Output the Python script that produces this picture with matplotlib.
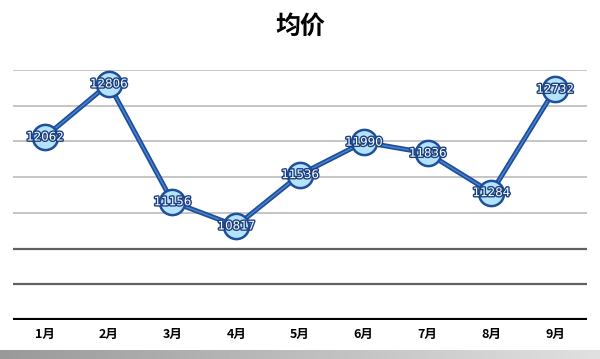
"""Monthly average price line chart."""
import matplotlib
matplotlib.use("Agg")
import matplotlib.pyplot as plt
import matplotlib.patheffects as pe
import numpy as np

plt.rcParams["font.family"] = ["Noto Sans CJK SC", "DejaVu Sans"]

months = ["1月", "2月", "3月", "4月", "5月", "6月", "7月", "8月", "9月"]
avg_price = [12062, 12806, 11156, 10817, 11536, 11990, 11836, 11284, 12732]
y_ticks = [9500, 10000, 10500, 11000, 11500, 12000, 12500, 13000]

LINE = "#1d4f9c"
FILL = "#b5e3fb"

fig = plt.figure(figsize=(6, 3.59), dpi=100)
fig.patch.set_facecolor("white")

# grey strip along the bottom edge
strip = fig.add_axes([0, 0, 1, 9 / 359])
strip.imshow(np.linspace(0.6, 0.88, 256).reshape(1, -1), cmap="gray",
             aspect="auto", vmin=0, vmax=1)
strip.axis("off")

ax = fig.add_axes([13 / 600, 39 / 359, 574 / 600, 250 / 359])
ax.set_facecolor("none")

x = np.arange(len(months))

for value in y_ticks[1:]:
    dark = value <= 10500
    ax.axhline(value, color="#606060" if dark else "#c0c0c0",
               lw=1.6 if dark else 1.3, zorder=1)
ax.axhline(y_ticks[0], color="black", lw=3, zorder=2)

ax.plot(x, avg_price, color=LINE, lw=3.6, zorder=3, solid_capstyle="round")
ax.plot(x, avg_price, color="#4f86d0", lw=1.0, zorder=3)
ax.scatter(x, avg_price, s=330, color=FILL, edgecolor=LINE, linewidth=1.8,
           zorder=4)

for xi, value in zip(x, avg_price):
    ax.text(xi, value, f"{value}", ha="center", va="center", fontsize=8.5,
            color="white", zorder=6, family="DejaVu Sans",
            path_effects=[pe.withStroke(linewidth=2, foreground="#1a3f80")])

ax.set_xlim(-0.5, len(months) - 0.5)
ax.set_ylim(y_ticks[0], y_ticks[-1])
ax.set_xticks(x)
ax.set_xticklabels(months, fontsize=9, fontweight="bold")
ax.set_yticks([])
ax.tick_params(axis="x", length=0, pad=6)
for spine in ax.spines.values():
    spine.set_visible(False)

fig.text(0.5, 1 - 27 / 359, "均价", ha="center", va="center", fontsize=18,
         fontweight="bold", color="black")

fig.savefig("out.png", dpi=100)
